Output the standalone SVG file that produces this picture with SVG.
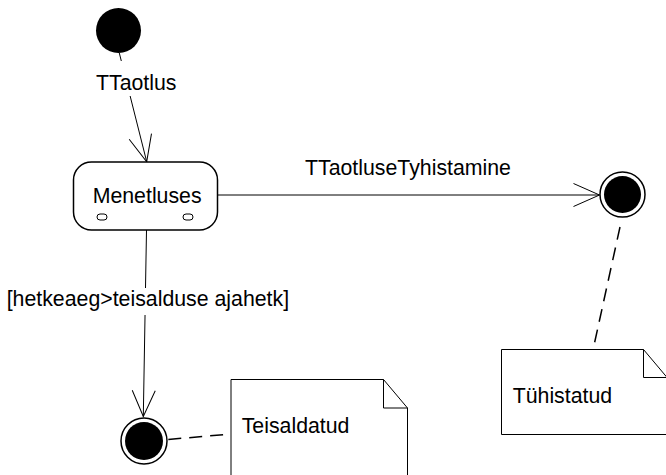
<svg xmlns="http://www.w3.org/2000/svg" width="666" height="475" viewBox="0 0 666 475">
<defs>
<style>
text{font-family:"Liberation Sans",Arial,sans-serif;font-size:21.3px;fill:#000}
.ln{stroke:#000;stroke-width:1;fill:none}
.dash{stroke:#000;stroke-width:1.5;fill:none;stroke-dasharray:13 8}
.note{fill:#fff;stroke:#000;stroke-width:1}
.bg{fill:#fff}
</style>
<marker id="open" markerUnits="userSpaceOnUse" markerWidth="30" markerHeight="30" viewBox="-28 -14 30 28" refX="0" refY="0" orient="auto">
<path d="M-26 -11.5 L0 0 L-26 11.5" fill="none" stroke="#000" stroke-width="1"/>
</marker>
</defs>
<rect width="666" height="475" fill="#fff"/>
<g id="connectors">
<line class="ln" x1="119.3" y1="53" x2="146.7" y2="161.7" marker-end="url(#open)"/>
<line class="ln" x1="217.7" y1="195" x2="599.5" y2="195" marker-end="url(#open)"/>
<line class="ln" x1="146.5" y1="230" x2="143.3" y2="416.5" marker-end="url(#open)"/>
<line class="dash" x1="620" y1="227" x2="593.3" y2="348.5"/>
<line class="dash" x1="168.3" y1="439.5" x2="230.5" y2="434"/>
<g id="label-ttaotlus">
<rect class="bg" x="95" y="61" width="86" height="35"/>
<text x="96" y="90">TTaotlus</text>
</g>
<g id="label-tyhistamine">
<text x="305" y="175">TTaotluseTyhistamine</text>
</g>
<g id="label-guard">
<rect class="bg" x="6" y="288" width="286" height="27"/>
<text x="6.7" y="306">[hetkeaeg&gt;teisalduse ajahetk]</text>
</g>
</g>
<g id="initial">
<circle cx="118.5" cy="30.5" r="22.5" fill="#000"/>
</g>
<g id="menetluses">
<rect x="73.5" y="162" width="144" height="68" rx="18" ry="18" fill="#fff" stroke="#000" stroke-width="1.5"/>
<text x="92.7" y="202.5">Menetluses</text>
<rect x="97" y="214" width="10" height="6" rx="3" ry="3" fill="#fff" stroke="#000" stroke-width="1"/>
<rect x="183" y="214" width="10" height="6" rx="3" ry="3" fill="#fff" stroke="#000" stroke-width="1"/>
</g>
<g id="final-tyhistatud">
<circle cx="622.5" cy="194.5" r="22.5" fill="#fff" stroke="#000" stroke-width="1.5"/>
<circle cx="622.5" cy="194.5" r="18.5" fill="#000"/>
</g>
<g id="final-teisaldatud">
<circle cx="144" cy="441" r="23" fill="#fff" stroke="#000" stroke-width="1.5"/>
<circle cx="144" cy="441" r="19" fill="#000"/>
</g>
<g id="note-tyhistatud">
<path class="note" d="M501.5 349.5 H643.5 L667.5 378 V434.5 H501.5 Z"/>
<path class="ln" d="M643.5 349.5 V377.5 H667.5"/>
<text x="512.7" y="403.3">Tühistatud</text>
</g>
<g id="note-teisaldatud">
<path class="note" d="M231 379.5 H383.5 L407.5 408 V480 H231 Z"/>
<path class="ln" d="M383.5 379.5 V408 H407.5"/>
<text x="241.7" y="433">Teisaldatud</text>
</g>
</svg>
